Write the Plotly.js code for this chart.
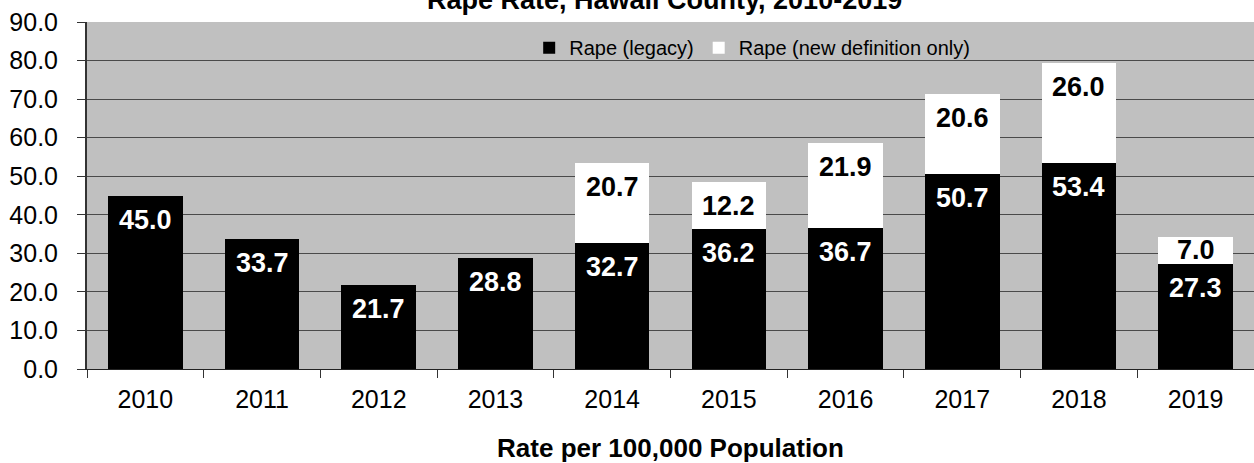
<!DOCTYPE html>
<html>
<head>
<meta charset="utf-8">
<script src="https://cdn.plot.ly/plotly-3.0.1.min.js"></script>
<style>html,body{margin:0;padding:0;background:#fff;overflow:hidden;}#chart{width:1254px;height:463px;}</style>
</head>
<body>
<div id="chart"></div>
<script>
const years = ["2010","2011","2012","2013","2014","2015","2016","2017","2018","2019"];
const legacy = [45.0, 33.7, 21.7, 28.8, 32.7, 36.2, 36.7, 50.7, 53.4, 27.3];
const newDef = [null, null, null, null, 20.7, 12.2, 21.9, 20.6, 26.0, 7.0];
const yTicks = [0,10,20,30,40,50,60,70,80,90];

const FONT = '"Liberation Sans", Arial, sans-serif';
const H = 463, MT = 22, MB = 94;
const plotH = H - MT - MB;
const pxPerUnit = plotH / 90;

const traces = [
  {type:'bar', name:'Rape (legacy)', x:years, y:legacy,
   marker:{color:'#000000', line:{width:0}}, hoverinfo:'none'},
  {type:'bar', name:'Rape (new definition only)', x:years, y:newDef,
   marker:{color:'#ffffff', line:{width:0}}, hoverinfo:'none'}
];

const annotations = [];
function addLabel(idx, base, val, color) {
  if (val === null || val === undefined) return;
  const segPx = val * pxPerUnit;
  const txt = '<b>' + val.toFixed(1) + '</b>';
  if (segPx < 45) {
    annotations.push({x:idx, y:base + val/2, xref:'x', yref:'y', text:txt,
      showarrow:false, yanchor:'middle', font:{family:FONT, size:27, color:color}});
  } else {
    annotations.push({x:idx, y:base + val, xref:'x', yref:'y', text:txt,
      showarrow:false, yanchor:'top', yshift:-7, font:{family:FONT, size:27, color:color}});
  }
}
years.forEach((yr,i)=>{
  addLabel(i, 0, legacy[i], '#ffffff');
  addLabel(i, legacy[i], newDef[i], '#000000');
});

const layout = {
  width:1254, height:H,
  margin:{l:87, r:0, t:MT, b:MB, pad:0},
  paper_bgcolor:'#ffffff',
  plot_bgcolor:'#c0c0c0',
  barmode:'stack',
  bargap:0.36,
  font:{family:FONT, color:'#000000'},
  title:{text:'<b>Rape Rate, Hawaii County, 2010-2019</b>', x:0.53, xanchor:'center',
         y:1, yref:'paper', yanchor:'bottom', pad:{b:13}, font:{family:FONT, size:27, color:'#000'}},
  showlegend:true,
  legend:{orientation:'h', x:0.57, xanchor:'center', y:0.926, yanchor:'middle',
          bgcolor:'rgba(0,0,0,0)', font:{family:FONT, size:20, color:'#000'},
          traceorder:'normal', itemwidth:30},
  xaxis:{type:'category', categoryorder:'array', categoryarray:years, range:[-0.5, 9.5],
         tickson:'boundaries', ticks:'outside',
         ticklen:8, tickcolor:'#333', tickwidth:1, showline:true, linecolor:'#222', linewidth:1,
         tickfont:{family:FONT, size:25, color:'#000'}, ticklabelstandoff:8, tickangle:0,
         showgrid:false, fixedrange:true,
         title:{text:'<b>Rate per 100,000 Population</b>', font:{family:FONT, size:26, color:'#000'}, standoff:26}},
  yaxis:{range:[0,90], tickvals:yTicks, ticktext:yTicks.map(v=>v.toFixed(1)),
         ticks:'outside', ticklen:8, tickcolor:'#333', tickwidth:1,
         showline:true, linecolor:'#333', linewidth:2, showgrid:true, gridcolor:'#4a4a4a', gridwidth:1,
         zeroline:false, tickfont:{family:FONT, size:25, color:'#000'}, ticklabelstandoff:14, fixedrange:true},
  annotations:annotations
};

Plotly.newPlot('chart', traces, layout, {displayModeBar:false, staticPlot:true});
</script>
</body>
</html>
